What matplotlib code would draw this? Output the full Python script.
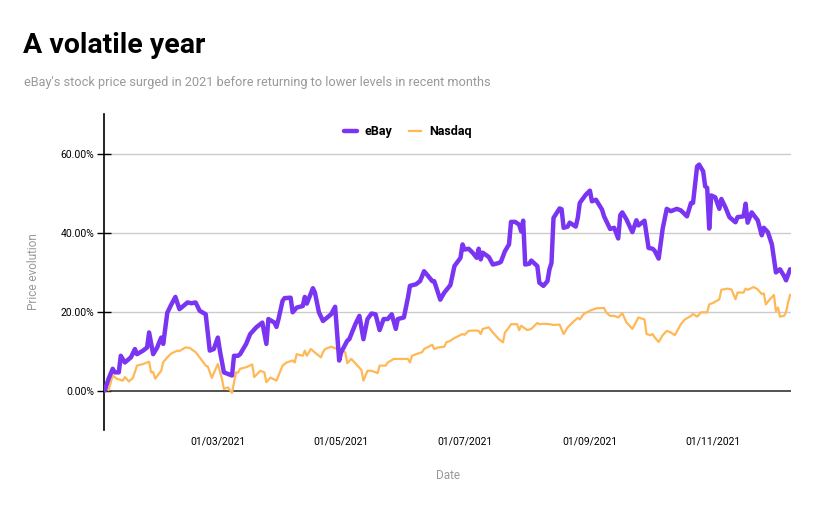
import numpy as np
import pandas as pd
import matplotlib
matplotlib.use("Agg")
import matplotlib.pyplot as plt
import matplotlib.dates as mdates
from matplotlib.ticker import FuncFormatter

start = pd.Timestamp("2021-01-04")

# days after 4 Jan 2021, price change in %
ebay_days = [0, 2, 4, 5, 7, 8, 10, 13, 15, 16, 19, 21, 22, 24, 26, 27, 28, 29, 31, 33,
             35, 37, 38, 41, 43, 45, 47, 50, 52, 54, 56, 57, 59, 61, 63, 64, 66, 67, 70, 72,
             75, 77, 78, 80, 81, 84, 85, 86, 88, 89, 92, 93, 95, 98, 99, 100, 103, 104, 106, 108,
             111, 112, 114, 116, 117, 120, 121, 124, 126, 128, 130, 132, 134, 136, 138, 140, 142, 144, 145, 148,
             150, 151, 154, 156, 158, 160, 162, 163, 166, 168, 171, 173, 175, 176, 177, 178, 180, 182, 184, 185,
             186, 187, 190, 192, 195, 196, 198, 200, 201, 203, 205, 206, 207, 208, 210, 211, 214, 215, 217, 219,
             220, 221, 222, 225, 226, 227, 229, 230, 233, 234, 235, 238, 240, 241, 243, 246, 247, 250, 252, 254,
             255, 256, 258, 261, 263, 264, 267, 269, 271, 272, 274, 276, 278, 280, 283, 285, 288, 290, 291, 293,
             294, 296, 297, 298, 299, 300, 302, 304, 305, 307, 309, 312, 313, 316, 317, 318, 320, 323, 325, 326,
             328, 330, 332, 334, 336, 337, 339]
ebay_vals = [0.0, 3.0, 5.5, 4.6, 4.6, 8.8, 7.1, 8.4, 10.5, 9.2, 10.1, 10.9, 14.7, 9.2, 10.9, 12.2, 13.4, 11.8, 19.7, 21.8,
             23.7, 20.6, 21.0, 22.3, 22.1, 22.3, 20.2, 19.3, 10.1, 10.5, 13.4, 10.1, 4.6, 4.2, 3.8, 8.8, 8.8, 9.2, 11.8, 14.3,
             16.0, 16.8, 17.2, 11.8, 18.1, 17.2, 16.1, 18.1, 22.7, 23.4, 23.5, 19.8, 21.0, 21.4, 23.7, 22.0, 25.9, 24.8, 19.8, 17.6,
             18.9, 19.3, 21.2, 7.6, 9.7, 12.6, 13.0, 16.8, 18.9, 13.0, 18.1, 19.5, 19.3, 15.3, 18.1, 18.1, 19.3, 15.6, 18.1, 18.5,
             23.5, 26.5, 26.9, 27.7, 30.2, 29.0, 27.7, 27.7, 23.0, 24.8, 26.7, 31.5, 32.9, 33.6, 37.0, 35.7, 35.9, 34.9, 33.6, 35.9,
             33.2, 34.9, 33.8, 31.9, 32.3, 32.6, 35.3, 37.0, 42.7, 42.7, 42.0, 40.3, 43.0, 31.9, 32.1, 32.9, 31.5, 27.3, 26.5, 27.7,
             30.7, 32.3, 43.7, 46.1, 45.9, 41.2, 41.5, 42.5, 41.5, 43.7, 47.5, 49.6, 50.6, 47.9, 48.3, 45.8, 44.1, 40.9, 41.2, 38.5,
             44.4, 45.1, 43.4, 40.1, 43.1, 41.8, 43.0, 36.1, 35.9, 35.4, 33.4, 41.0, 46.0, 45.4, 46.0, 45.6, 44.1, 47.5, 47.5, 56.7,
             57.2, 55.5, 51.7, 51.3, 41.0, 49.4, 48.9, 46.0, 48.5, 46.4, 43.9, 42.6, 43.9, 44.1, 47.3, 42.5, 45.1, 43.1, 39.3, 41.2,
             40.1, 37.0, 29.9, 30.7, 29.0, 27.9, 30.7]

nasdaq_days = [0, 1, 2, 4, 6, 9, 10, 12, 14, 16, 19, 22, 23, 24, 25, 28, 29, 31, 33, 36,
               37, 40, 42, 45, 47, 50, 51, 53, 56, 58, 59, 61, 63, 65, 66, 67, 70, 73, 74, 77,
               79, 80, 82, 85, 88, 90, 93, 94, 95, 98, 99, 100, 102, 105, 107, 108, 109, 112, 113, 115,
               117, 119, 120, 122, 125, 127, 128, 130, 132, 135, 136, 139, 140, 143, 146, 150, 151, 152, 154, 157,
               158, 161, 162, 163, 165, 168, 169, 171, 173, 177, 178, 180, 183, 185, 186, 187, 190, 192, 195, 197,
               198, 200, 201, 204, 205, 206, 209, 211, 214, 215, 218, 220, 222, 225, 227, 229, 232, 234, 235, 237,
               240, 243, 247, 248, 250, 252, 254, 256, 258, 261, 264, 267, 268, 270, 271, 272, 274, 276, 278, 280,
               282, 285, 287, 290, 291, 293, 295, 298, 299, 301, 304, 305, 308, 310, 312, 313, 316, 317, 318, 321,
               323, 325, 326, 327, 329, 331, 332, 333, 334, 336, 337, 338, 339]
nasdaq_vals = [0.0, 0.8, 0.1, 3.8, 3.0, 2.5, 3.4, 2.3, 3.2, 6.3, 6.7, 7.3, 4.6, 4.7, 3.0, 5.0, 7.2, 8.4, 9.4, 10.1,
               10.0, 10.9, 10.8, 9.7, 8.4, 6.3, 6.1, 3.2, 6.7, 3.0, 0.4, 0.8, -0.6, 4.6, 4.5, 5.5, 5.9, 6.6, 3.4, 5.0,
               4.6, 2.1, 3.3, 2.5, 6.3, 7.1, 7.6, 7.1, 9.2, 8.8, 10.1, 8.8, 10.5, 9.2, 8.4, 9.7, 10.5, 11.1, 10.9, 10.5,
               10.1, 9.7, 6.9, 8.0, 6.3, 5.2, 2.5, 5.0, 5.0, 4.4, 6.3, 6.3, 7.1, 8.0, 8.0, 8.0, 7.1, 8.8, 9.2, 9.7,
               10.5, 11.3, 11.6, 10.5, 10.9, 11.1, 12.2, 12.6, 13.3, 14.3, 14.1, 15.1, 15.2, 15.1, 14.3, 15.6, 16.0, 14.7, 13.0, 12.2,
               14.7, 16.0, 16.8, 16.8, 15.3, 16.4, 15.3, 15.6, 17.1, 16.8, 16.9, 16.8, 16.6, 16.7, 14.3, 16.0, 17.5, 18.4, 18.0, 19.4,
               20.2, 20.8, 20.9, 19.8, 18.9, 18.9, 18.5, 19.6, 17.3, 15.6, 18.5, 18.0, 14.3, 14.0, 14.3, 13.5, 12.3, 14.0, 15.1, 14.7,
               14.0, 16.8, 18.0, 18.9, 19.4, 18.7, 19.8, 19.8, 21.8, 22.2, 23.1, 25.5, 25.8, 25.6, 23.1, 24.8, 24.8, 25.8, 25.5, 26.2,
               25.6, 24.4, 24.6, 21.8, 23.1, 24.2, 20.1, 21.0, 18.7, 18.9, 19.8, 22.3, 24.2]

tick_dates = ["2021-03-01", "2021-05-01", "2021-07-01", "2021-09-01", "2021-11-01"]
y_ticks = [0, 20, 40, 60]

ebay_dates = start + pd.to_timedelta(ebay_days, unit="D")
nasdaq_dates = start + pd.to_timedelta(nasdaq_days, unit="D")

plt.rcParams["font.family"] = ["Roboto", "DejaVu Sans"]

fig = plt.figure(figsize=(8.17, 5.08), dpi=100)
ax = fig.add_axes([0.1273, 0.1535, 0.8410, 0.6220])

purple = "#7a35f2"
orange = "#ffb856"

ax.plot(nasdaq_dates, nasdaq_vals, color=orange, lw=1.6, label="Nasdaq", zorder=3,
        solid_joinstyle="round")
ax.plot(ebay_dates, ebay_vals, color=purple, lw=3.2, label="eBay", zorder=4,
        solid_joinstyle="round", solid_capstyle="round")

ax.set_ylim(-10, 70)
ax.set_xlim(start - pd.Timedelta(days=0.3), start + pd.Timedelta(days=339.5))

ax.set_yticks(y_ticks)
ax.yaxis.set_major_formatter(FuncFormatter(lambda v, p: f"{v:.2f}%"))
ax.set_xticks(pd.to_datetime(tick_dates))
ax.xaxis.set_major_formatter(mdates.DateFormatter("%d/%m/%Y"))

for v in y_ticks[1:]:
    ax.axhline(v, color="#cccccc", lw=1, zorder=1)
ax.axhline(0, color="#333333", lw=1.2, zorder=2)

for s in ["top", "right", "bottom"]:
    ax.spines[s].set_visible(False)
ax.spines["left"].set_color("black")
ax.spines["left"].set_linewidth(1.2)

ax.tick_params(axis="y", direction="inout", length=10, width=1, labelsize=7.5, pad=2)
ax.tick_params(axis="x", length=0, labelsize=7.5, pad=5)

ax.set_ylabel("Price evolution", color="#999999", fontsize=8.5, labelpad=15)
ax.set_xlabel("Date", color="#999999", fontsize=8.5, labelpad=16)

handles, labels = ax.get_legend_handles_labels()
leg = ax.legend(handles[::-1], labels[::-1], loc="upper center", bbox_to_anchor=(0.4425, 1.0),
                ncol=2, frameon=False, handlelength=1.0, handletextpad=0.65, columnspacing=1.3,
                prop={"weight": "bold", "size": 9})

fig.text(0.028, 0.895, "A volatile year", fontsize=20.5, fontweight="bold", color="black")
fig.text(0.029, 0.83, "eBay's stock price surged in 2021 before returning to lower levels in recent months",
         fontsize=9.2, color="#999999")

fig.savefig("out.png", dpi=100)
